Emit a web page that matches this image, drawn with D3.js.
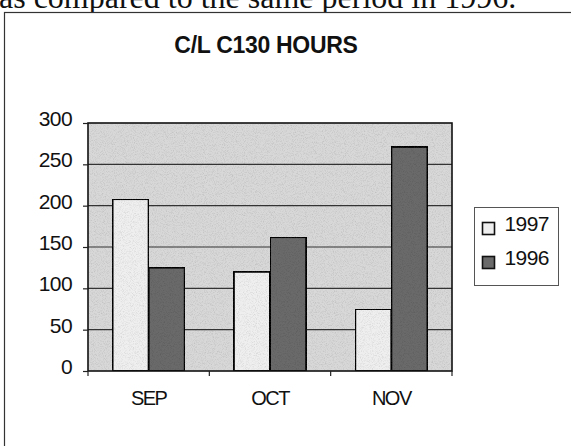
<!DOCTYPE html>
<html>
<head>
<meta charset="utf-8">
<script src="https://cdn.jsdelivr.net/npm/d3@7"></script>
<style>
    body { margin: 0; background: #fff; }
    svg { display: block; }
</style>
</head>
<body>
<svg id="chart"></svg>
<script>
// chart data
var months = ["SEP", "OCT", "NOV"];
var years = ["1997", "1996"];
var hours1997 = [208, 120, 75];
var hours1996 = [125, 162, 271];
var yTicks = [0, 50, 100, 150, 200, 250, 300];

var width = 571,
    height = 446;

var plot = { left: 88, right: 452, top: 123, bottom: 371 };

var svg = d3.select("#chart")
    .attr("width", width)
    .attr("height", height);

// speckled texture like the scanned page
var defs = svg.append("defs");
var grain = defs.append("filter").attr("id", "grain")
    .attr("x", 0).attr("y", 0).attr("width", 1).attr("height", 1);
grain.append("feTurbulence")
    .attr("type", "fractalNoise")
    .attr("baseFrequency", 1.1)
    .attr("numOctaves", 2)
    .attr("seed", 3)
    .attr("result", "noise");
grain.append("feColorMatrix")
    .attr("in", "noise")
    .attr("type", "matrix")
    .attr("values", "0 0 0 0 0  0 0 0 0 0  0 0 0 0 0  0 0 0 0.5 -0.22")
    .attr("result", "dots");
grain.append("feComposite")
    .attr("in", "dots").attr("in2", "SourceGraphic")
    .attr("operator", "in").attr("result", "dotsIn");
grain.append("feMerge").selectAll("feMergeNode")
    .data(["SourceGraphic", "dotsIn"])
    .enter().append("feMergeNode")
    .attr("in", function (d) { return d; });

// line of the document above the chart, cut off by the page edge
svg.append("text")
    .attr("x", -1)
    .attr("y", 8)
    .style("font-family", "'Liberation Serif', 'Times New Roman', serif")
    .style("font-size", "32px")
    .attr("fill", "#111")
    .text("as compared to the same period in 1996.");

// outer chart frame (right and bottom run off the picture)
svg.append("rect")
    .attr("x", 4.5).attr("y", 12.5)
    .attr("width", 600).attr("height", 460)
    .attr("fill", "#fff")
    .attr("stroke", "#333")
    .attr("stroke-width", 1.2);

// title
svg.append("text")
    .attr("x", 266)
    .attr("y", 53)
    .style("text-anchor", "middle")
    .style("font-family", "'Liberation Sans', Arial, sans-serif")
    .style("font-weight", "bold")
    .style("font-size", "23px")
    .style("letter-spacing", "-0.3px")
    .attr("fill", "#111")
    .text("C/L C130 HOURS");

// scales
var x0 = d3.scaleBand()
    .domain(months)
    .range([plot.left, plot.right]);

var x1 = d3.scaleBand()
    .domain(years)
    .range([0, x0.bandwidth()])
    .paddingOuter(0.68);

var y = d3.scaleLinear()
    .domain([0, 300])
    .range([plot.bottom, plot.top]);

var colour = d3.scaleOrdinal()
    .domain(years)
    .range(["#efefef", "#6a6a6a"]);

// plot background
svg.append("rect")
    .attr("x", plot.left).attr("y", plot.top)
    .attr("width", plot.right - plot.left)
    .attr("height", plot.bottom - plot.top)
    .attr("fill", "#d8d8d8")
    .attr("filter", "url(#grain)");

// gridlines
svg.append("g")
    .selectAll("line")
    .data(yTicks.slice(1, -1))
    .enter().append("line")
    .attr("x1", plot.left).attr("x2", plot.right)
    .attr("y1", function (d) { return y(d); })
    .attr("y2", function (d) { return y(d); })
    .attr("stroke", "#333")
    .attr("stroke-width", 1.1);

// bars
var rows = months.map(function (m, i) {
    return { month: m, values: [
        { year: "1997", value: hours1997[i] },
        { year: "1996", value: hours1996[i] }
    ] };
});

var groups = svg.append("g")
    .selectAll("g")
    .data(rows)
    .enter().append("g")
    .attr("transform", function (d) { return "translate(" + x0(d.month) + ",0)"; });

groups.selectAll("rect")
    .data(function (d) { return d.values; })
    .enter().append("rect")
    .attr("x", function (d) { return x1(d.year); })
    .attr("y", function (d) { return y(d.value); })
    .attr("width", x1.bandwidth())
    .attr("height", function (d) { return y(0) - y(d.value); })
    .attr("fill", function (d) { return colour(d.year); })
    .attr("stroke", "#111")
    .attr("stroke-width", 2)
    .attr("filter", "url(#grain)");

// plot border
svg.append("rect")
    .attr("x", plot.left).attr("y", plot.top)
    .attr("width", plot.right - plot.left)
    .attr("height", plot.bottom - plot.top)
    .attr("fill", "none")
    .attr("stroke", "#111")
    .attr("stroke-width", 1.6);

// y axis
var yAxis = svg.append("g")
    .attr("transform", "translate(" + plot.left + ",0)")
    .call(d3.axisLeft(y).tickValues(yTicks).tickSize(5).tickPadding(11));

yAxis.select(".domain").remove();
yAxis.selectAll("line").attr("stroke", "#222").attr("stroke-width", 1.2);
yAxis.selectAll("text")
    .attr("dy", "0.12em")
    .style("font-family", "'Liberation Sans', Arial, sans-serif")
    .style("font-size", "21px")
    .style("letter-spacing", "-0.6px")
    .attr("fill", "#111");

// x axis: ticks sit between the months
var xAxis = svg.append("g")
    .attr("transform", "translate(0," + plot.bottom + ")");

xAxis.selectAll("line")
    .data(months.map(function (m) { return x0(m); }).concat([plot.right]))
    .enter().append("line")
    .attr("x1", function (d) { return d; })
    .attr("x2", function (d) { return d; })
    .attr("y1", 0).attr("y2", 5)
    .attr("stroke", "#222")
    .attr("stroke-width", 1.2);

xAxis.selectAll("text")
    .data(months)
    .enter().append("text")
    .attr("x", function (d) { return x0(d) + x0.bandwidth() / 2; })
    .attr("y", 34)
    .style("text-anchor", "middle")
    .style("font-family", "'Liberation Sans', Arial, sans-serif")
    .style("font-size", "20px")
    .style("letter-spacing", "-1.5px")
    .attr("fill", "#111")
    .text(function (d) { return d; });

// legend
var legend = svg.append("g")
    .attr("transform", "translate(474.5,207.5)");

legend.append("rect")
    .attr("width", 84).attr("height", 78)
    .attr("fill", "#fff")
    .attr("stroke", "#555")
    .attr("stroke-width", 1);

var item = legend.selectAll(".item")
    .data(years)
    .enter().append("g")
    .attr("class", "item")
    .attr("transform", function (d, i) { return "translate(8," + (15 + i * 34) + ")"; });

item.append("rect")
    .attr("width", 12).attr("height", 12)
    .attr("fill", function (d) { return colour(d); })
    .attr("stroke", "#111")
    .attr("stroke-width", 1.6);

item.append("text")
    .attr("x", 22)
    .attr("y", 6)
    .attr("dy", "0.12em")
    .style("font-family", "'Liberation Sans', Arial, sans-serif")
    .style("font-size", "21px")
    .style("letter-spacing", "-0.6px")
    .attr("fill", "#111")
    .text(function (d) { return d; });
</script>
</body>
</html>
